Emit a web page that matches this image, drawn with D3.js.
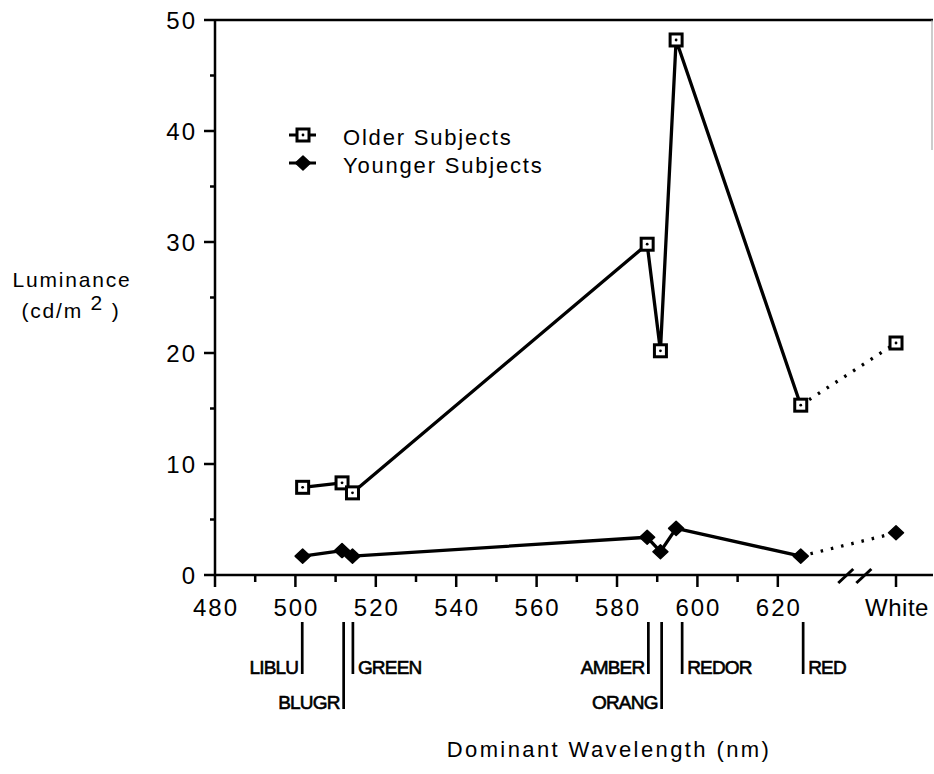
<!DOCTYPE html>
<html>
<head>
<meta charset="utf-8">
<script src="https://cdn.jsdelivr.net/npm/d3@7"></script>
<style>
  body { margin: 0; background: #fff; }
  svg text { font-family: "Liberation Sans", Arial, Helvetica, sans-serif; fill: #000; }
</style>
</head>
<body>
<svg id="chart" width="934" height="774"></svg>
<script>
// filter colours, dominant wavelength (nm) - last one is the white light
const colorNames = ['LIBLU', 'BLUGR', 'GREEN', 'AMBER', 'ORANG', 'REDOR', 'RED', 'White'];
const wavelength = [501.8, 511.6, 514.2, 587.5, 590.8, 594.7, 625.7, 'White'];
// luminance thresholds (cd/m2)
const olderSubjects = [7.9, 8.3, 7.4, 29.8, 20.2, 48.2, 15.3, 20.9];
const youngerSubjects = [1.7, 2.2, 1.7, 3.4, 2.1, 4.2, 1.7, 3.8];
// where the names sit under the axis
const labelNm = [501.7, 512.0, 514.3, 587.8, 591.1, 596.2, 626.3];
const labelSide = ['left', 'left', 'right', 'left', 'left', 'right', 'right'];
const labelRow = [0, 1, 0, 0, 1, 0, 0];

const xMajor = [480, 500, 520, 540, 560, 580, 600, 620];
const xMinor = [490, 510, 530, 550, 570, 590, 610];
const yMajor = [0, 10, 20, 30, 40, 50];
const yMinor = [5, 15, 25, 35, 45];
const whiteNm = 649.4;          // position of the "White" category on the wavelength scale
const breakNm = [636.9, 641.4]; // axis break marks

const svg = d3.select('#chart');
const plotL = 215, plotR = 933, plotT = 20, plotB = 575;

const x = d3.scaleLinear().domain([480, 658.6]).range([plotL, plotR]);
const y = d3.scaleLinear().domain([0, 50]).range([plotB, plotT]);
const xPos = d => d === 'White' ? x(whiteNm) : x(d);

const rows = wavelength.map((w, i) => ({
    name: colorNames[i], nm: w, older: olderSubjects[i], younger: youngerSubjects[i]
}));

// frame: top rule + faint bit of right edge (as in the scan)
svg.append('line').attr('x1', plotL).attr('x2', plotR).attr('y1', plotT).attr('y2', plotT)
    .attr('stroke', '#000').attr('stroke-width', 2.5);
svg.append('line').attr('x1', plotR - 1).attr('x2', plotR - 1).attr('y1', plotT).attr('y2', 150)
    .attr('stroke', '#999').attr('stroke-width', 1);

// y axis
svg.append('line').attr('x1', plotL).attr('x2', plotL).attr('y1', plotT - 1).attr('y2', plotB + 1)
    .attr('stroke', '#000').attr('stroke-width', 2.5);
svg.selectAll('.ymaj').data(yMajor).enter().append('line')
    .attr('x1', plotL - 11).attr('x2', plotL).attr('y1', d => y(d)).attr('y2', d => y(d))
    .attr('stroke', '#000').attr('stroke-width', 2.5);
svg.selectAll('.ymin').data(yMinor).enter().append('line')
    .attr('x1', plotL - 5).attr('x2', plotL).attr('y1', d => y(d)).attr('y2', d => y(d))
    .attr('stroke', '#000').attr('stroke-width', 2.5);
svg.selectAll('.ylab').data(yMajor).enter().append('text')
    .attr('x', plotL - 18).attr('y', d => y(d)).attr('dy', '0.36em')
    .attr('text-anchor', 'end').style('font-size', '24px').style('letter-spacing', '2px')
    .text(d => d);

// x axis
svg.append('line').attr('x1', plotL).attr('x2', plotR).attr('y1', plotB).attr('y2', plotB)
    .attr('stroke', '#000').attr('stroke-width', 2.5);
svg.selectAll('.xmaj').data(xMajor.concat(['White'])).enter().append('line')
    .attr('x1', d => xPos(d)).attr('x2', d => xPos(d)).attr('y1', plotB).attr('y2', plotB + 12)
    .attr('stroke', '#000').attr('stroke-width', 2.5);
svg.selectAll('.xmin').data(xMinor).enter().append('line')
    .attr('x1', d => x(d)).attr('x2', d => x(d)).attr('y1', plotB).attr('y2', plotB + 7)
    .attr('stroke', '#000').attr('stroke-width', 2.5);
svg.selectAll('.xlab').data(xMajor.concat(['White'])).enter().append('text')
    .attr('x', d => xPos(d) + 1).attr('y', plotB + 41)
    .attr('text-anchor', 'middle').style('font-size', '24px')
    .style('letter-spacing', d => d === 'White' ? '0.5px' : '2px')
    .text(d => d);

// axis break
svg.selectAll('.brk').data(breakNm).enter().append('line')
    .attr('x1', d => x(d) - 7.5).attr('x2', d => x(d) + 7.5)
    .attr('y1', plotB + 8).attr('y2', plotB - 6)
    .attr('stroke', '#000').attr('stroke-width', 3);

// series lines
const line = d3.line().x(d => xPos(d.nm));
const solid = rows.slice(0, 7), dotted = rows.slice(6);
['older', 'younger'].forEach(function(key) {
    line.y(d => y(d[key]));
    svg.append('path').datum(solid).attr('d', line)
        .attr('fill', 'none').attr('stroke', '#000').attr('stroke-width', 3.3)
        .attr('stroke-linejoin', 'round');
    svg.append('path').datum(dotted).attr('d', line)
        .attr('fill', 'none').attr('stroke', '#000').attr('stroke-width', 3.3)
        .attr('stroke-dasharray', '2.5,8').attr('stroke-dashoffset', -10);
});

function square(g, cx, cy) {
    g.append('rect').attr('x', cx - 6).attr('y', cy - 6).attr('width', 12).attr('height', 12)
        .attr('fill', '#fff').attr('stroke', '#000').attr('stroke-width', 3);
    g.append('circle').attr('cx', cx).attr('cy', cy).attr('r', 1.4).attr('fill', '#000');
}
function diamond(g, cx, cy) {
    g.append('path')
        .attr('d', 'M' + (cx - 7.5) + ',' + cy + 'L' + cx + ',' + (cy - 7) + 'L' + (cx + 7.5) + ',' + cy +
            'L' + cx + ',' + (cy + 7) + 'Z')
        .attr('fill', '#000').attr('stroke', '#000').attr('stroke-width', 1.5).attr('stroke-linejoin', 'round');
}

const marks = svg.append('g');
rows.forEach(function(d) {
    diamond(marks, xPos(d.nm), y(d.younger));
    square(marks, xPos(d.nm), y(d.older));
});

// legend
const legend = svg.append('g');
[['Older Subjects', square, 135, 145], ['Younger Subjects', diamond, 163, 173]].forEach(function(l) {
    legend.append('line').attr('x1', 289).attr('x2', 316).attr('y1', l[2]).attr('y2', l[2])
        .attr('stroke', '#000').attr('stroke-width', 3);
    l[1](legend, 303, l[2]);
    legend.append('text').attr('x', 343).attr('y', l[3])
        .style('font-size', '22px').style('letter-spacing', '1.8px').text(l[0]);
});

// colour names under the axis
const names = svg.append('g');
labelNm.forEach(function(w, i) {
    const lx = x(w);
    const yb = labelRow[i] ? 709 : 674;
    names.append('line').attr('x1', lx).attr('x2', lx).attr('y1', 622).attr('y2', yb)
        .attr('stroke', '#000').attr('stroke-width', 2.7);
    names.append('text')
        .attr('x', labelSide[i] === 'left' ? lx - 4 : lx + 5).attr('y', yb)
        .attr('text-anchor', labelSide[i] === 'left' ? 'end' : 'start')
        .style('font-size', '19px').style('letter-spacing', '-0.8px')
        .attr('stroke', '#000').attr('stroke-width', 0.6)
        .text(colorNames[i]);
});

// axis titles
svg.append('text').attr('x', 609).attr('y', 757).attr('text-anchor', 'middle')
    .style('font-size', '22px').style('letter-spacing', '2.4px').text('Dominant Wavelength (nm)');
svg.append('text').attr('x', 72).attr('y', 287).attr('text-anchor', 'middle')
    .style('font-size', '21px').style('letter-spacing', '1.8px').text('Luminance');
const unit = svg.append('text').attr('x', 71).attr('y', 318).attr('text-anchor', 'middle')
    .style('font-size', '21px').style('letter-spacing', '1.8px');
unit.append('tspan').text('(cd/m ');
unit.append('tspan').attr('dy', -8).text('2');
unit.append('tspan').attr('dy', 8).text(' )');
</script>
</body>
</html>
